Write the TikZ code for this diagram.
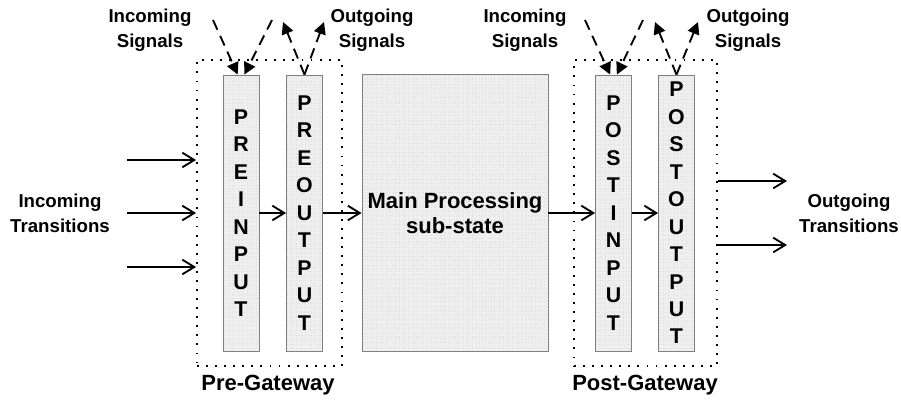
\documentclass[tikz,border=0pt]{standalone}
\usepackage{fontspec}
\setmainfont{Liberation Sans}
\usetikzlibrary{arrows.meta, positioning}
\definecolor{mygray}{RGB}{239, 239, 239}
\definecolor{mygridgray}{RGB}{222, 222, 222}
\definecolor{myedge}{RGB}{128, 128, 128}
\tikzset{>=latex}
\tikzset{
  substate/.style = {draw = myedge, line width = 0.6pt, fill = mygray, inner sep = 0pt,
    path picture = {\draw[mygridgray, line width = 0.3pt, dotted, step = 3.4pt]
      (path picture bounding box.south west) grid (path picture bounding box.north east);}},
  column/.style = {substate, minimum width = 27pt, minimum height = 207pt, align = center,
    font = \bfseries\fontsize{16}{20.6}\selectfont},
  gateway/.style = {draw, line width = 1.4pt, dash pattern = on 1.4pt off 5.4pt, inner sep = 0pt,
    minimum height = 229.5pt},
  trans/.style = {line width = 1.4pt, -{Straight Barb[length = 9pt, width = 11pt]}},
  signal/.style = {line width = 1.4pt, dash pattern = on 8pt off 5pt, -{Triangle[length = 9pt, width = 9pt]}},
  lbl/.style = {font = \bfseries\fontsize{14}{18.5}\selectfont, align = center},
  biglbl/.style = {font = \bfseries\fontsize{16.5}{18.75}\selectfont, align = center}
}

\begin{document}
\begin{tikzpicture}[x = 0.75pt, y = -0.75pt]
\useasboundingbox (0,0) rectangle (901,401);

% gateways
\node[gateway, minimum width = 108.75pt] (pregw) at (269.5, 213) {};
\node[gateway, minimum width = 107.25pt] (postgw) at (645.5, 213) {};

% sub-states
\node[column] (preinput) at (241, 213) {P\\R\\E\\I\\N\\P\\U\\T};
\node[column] (preoutput) at (304.5, 213) {P\\R\\E\\O\\U\\T\\P\\U\\T};
\node[substate, minimum width = 139.5pt, minimum height = 207.75pt, biglbl] (main) at (455, 213)
  {Main Processing\\sub-state};
\node[column] (postinput) at (613.5, 213) {P\\O\\S\\T\\I\\N\\P\\U\\T};
\node[column] (postoutput) at (676.5, 213) {P\\O\\S\\T\\O\\U\\T\\P\\U\\T};

% transitions inside
\draw[trans] (preinput.east) -- (preoutput.west);
\draw[trans] (preoutput.east) -- (main.west);
\draw[trans] (main.east) -- (postinput.west);
\draw[trans] (postinput.east) -- (postoutput.west);

% incoming and outgoing transitions
\coordinate (tin1) at (127, 160);
\coordinate (tin2) at (127, 213);
\coordinate (tin3) at (127, 267);
\foreach \t in {tin1, tin2, tin3}
  \draw[trans] (\t) -- (\t -| pregw.west);
\coordinate (tout1) at (787, 181);
\coordinate (tout2) at (787, 245);
\foreach \t in {tout1, tout2}
  \draw[trans] (\t -| postgw.east) -- (\t);

% signals
\coordinate (prein1) at (213, 20);
\coordinate (prein2) at (272, 20);
\coordinate (preout1) at (283, 22);
\coordinate (preout2) at (324, 22);
\coordinate (postin1) at (585, 20);
\coordinate (postin2) at (643, 20);
\coordinate (postout1) at (655, 22);
\coordinate (postout2) at (698, 22);
\draw[signal] (prein1) -- ([xshift = -2.5pt]preinput.north);
\draw[signal] (prein2) -- ([xshift = 2.5pt]preinput.north);
\draw[signal] (preoutput.north) -- (preout1);
\draw[signal] (preoutput.north) -- (preout2);
\draw[signal] (postin1) -- ([xshift = -2.5pt]postinput.north);
\draw[signal] (postin2) -- ([xshift = 2.5pt]postinput.north);
\draw[signal] (postoutput.north) -- (postout1);
\draw[signal] (postoutput.north) -- (postout2);

% labels
\node[lbl] (insig1) at (150, 30) {Incoming\\Signals};
\node[lbl] (outsig1) at (372, 30) {Outgoing\\Signals};
\node[lbl] (insig2) at (525, 30) {Incoming\\Signals};
\node[lbl] (outsig2) at (748, 30) {Outgoing\\Signals};
\node[lbl] (intrans) at (60, 213) {Incoming\\Transitions};
\node[lbl] (outtrans) at (849, 213) {Outgoing\\Transitions};
\node[biglbl] (prelbl) at (268, 385) {Pre-Gateway};
\node[biglbl] (postlbl) at (645, 385) {Post-Gateway};
\end{tikzpicture}
\end{document}
